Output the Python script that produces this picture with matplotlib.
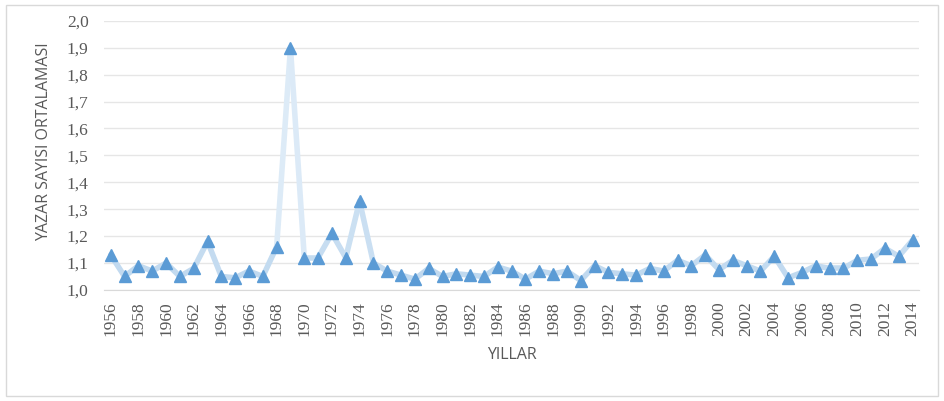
import numpy as np
import matplotlib.pyplot as plt
from matplotlib.collections import LineCollection
from matplotlib.colors import LinearSegmentedColormap
from matplotlib.patches import Rectangle
from matplotlib.ticker import FuncFormatter, MultipleLocator

years = list(range(1956, 2015))
avg_authors = [1.13, 1.05, 1.09, 1.07, 1.10, 1.05, 1.08, 1.18, 1.05, 1.045,
               1.07, 1.05, 1.16, 1.90, 1.12, 1.12, 1.21, 1.12, 1.33, 1.10,
               1.07, 1.055, 1.04, 1.08, 1.05, 1.06, 1.055, 1.05, 1.085, 1.07,
               1.04, 1.07, 1.06, 1.07, 1.035, 1.09, 1.065, 1.06, 1.055, 1.08,
               1.07, 1.11, 1.09, 1.13, 1.075, 1.11, 1.09, 1.07, 1.125, 1.045,
               1.065, 1.09, 1.08, 1.08, 1.11, 1.115, 1.155, 1.125, 1.185]

# tick labels are serif in the original, axis titles sans
plt.rcParams['font.family'] = ['Liberation Serif', 'DejaVu Serif']
grey = '#595959'
title_font = ['Open Sans', 'DejaVu Sans']

fig = plt.figure(figsize=(9.44, 4.01), dpi=100)
ax = fig.add_axes([0.110, 0.277, 0.864, 0.671])

# light frame round the whole chart
fig.patches.append(Rectangle((0.006, 0.012), 0.988, 0.975, transform=fig.transFigure,
                             fill=False, edgecolor='#d9d9d9', linewidth=1))

# line fades towards white the higher it goes (gradient line)
pts = np.column_stack([years, avg_authors])
segs = np.stack([pts[:-1], pts[1:]], axis=1)
mid = (segs[:, 0, 1] + segs[:, 1, 1]) / 2
fade = LinearSegmentedColormap.from_list('fade', ['#bdd7ee', '#f4f9fe'])
lc = LineCollection(segs, colors=fade((mid - 1.0) / 0.9), linewidths=4,
                    capstyle='round', joinstyle='round', zorder=2)
ax.add_collection(lc)
ax.plot(years, avg_authors, linestyle='none', marker='^', markersize=9,
        color='#5b9bd5', zorder=3)

ax.set_xlim(1955.5, 2014.5)
ax.set_ylim(1.0, 2.0)
ax.yaxis.set_major_locator(MultipleLocator(0.1))
ax.yaxis.set_major_formatter(FuncFormatter(lambda v, p: f'{v:.1f}'.replace('.', ',')))
ax.set_xticks(years[::2])
ax.set_xticklabels([str(y) for y in years[::2]], rotation=90)

ax.grid(axis='y', color='#e6e6e6', linewidth=1)
ax.set_axisbelow(True)
for s in ['top', 'right', 'left']:
    ax.spines[s].set_visible(False)
ax.spines['bottom'].set_color('#d9d9d9')
ax.tick_params(length=0, labelsize=12.5, colors=grey)
ax.tick_params(axis='y', pad=11)
ax.tick_params(axis='x', pad=8)

ax.set_ylabel('YAZAR SAYISI ORTALAMASI', fontsize=11.5, color=grey, family=title_font)
ax.yaxis.set_label_coords(-0.064, 0.55)
ax.set_xlabel('YILLAR', fontsize=11.5, color=grey, family=title_font, labelpad=8)

fig.savefig('out.png', dpi=100)
